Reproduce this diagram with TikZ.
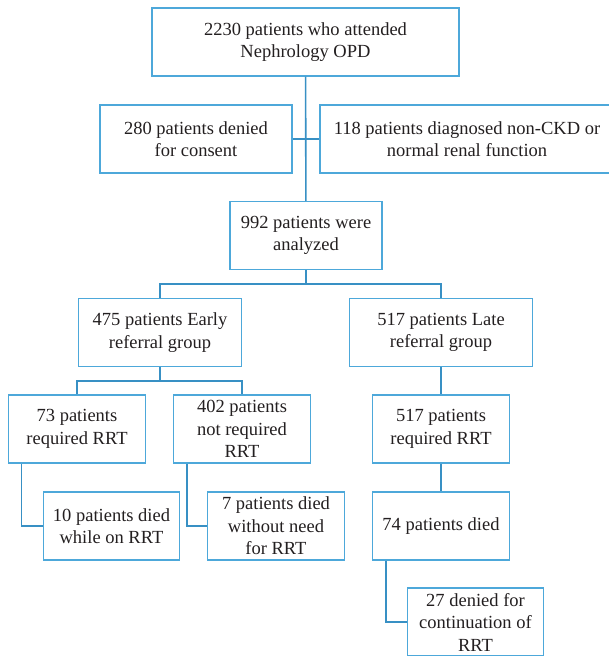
\documentclass[tikz,border=0pt]{standalone}
\usepackage{fontspec}
\newfontfamily\boxfont{Liberation Serif}
\usepackage{tikz}
\usetikzlibrary{positioning}
\definecolor{boxblue}{HTML}{4DA8DA}
\definecolor{lineblue}{HTML}{3890C4}
\definecolor{inkgray}{HTML}{231F20}

\begin{document}
\begin{tikzpicture}[
  x=1pt, y=-1pt,
  every node/.style={rectangle, draw=boxblue, line width=1.3pt, align=center,
    inner sep=0pt, minimum height=68pt, minimum width=136.5pt, text=inkgray,
    font=\boxfont\fontsize{18.5}{22.5}\selectfont},
  link/.style={draw=lineblue, line width=1.6pt}
]
  \useasboundingbox (0,0) rectangle (609,656);
  \clip (0,0) rectangle (609,656);

  \node[minimum width=307pt] (opd) at (305.5,42) {2230 patients who attended\\Nephrology OPD};
  \node[minimum width=192pt] (denied) at (196,139) {280 patients denied\\for consent};
  \node[minimum width=294pt] (nonckd) at (467,139) {118 patients diagnosed non-CKD or\\normal renal function};
  \node[minimum width=152pt] (analyzed) at (306,235.5) {992 patients were\\analyzed};
  \node[minimum width=163.5pt] (early) at (160,332.5) {475 patients Early\\referral group};
  \node[minimum width=183.5pt] (late) at (441,332.5) {517 patients Late\\referral group};
  \node (earlyrrt) at (77,429) {73 patients\\required RRT};
  \node (norrt) at (242,429) {402 patients\\not required\\RRT};
  \node (laterrt) at (441,429) {517 patients\\required RRT};
  \node (diedrrt) at (111.5,526) {10 patients died\\while on RRT};
  \node (diednorrt) at (276,526) {7 patients died\\without need\\for RRT};
  \node (latedied) at (441,526) {74 patients died};
  \node (stopped) at (475.5,622) {27 denied for\\continuation of\\RRT};

  \coordinate (split1) at (306,284);
  \coordinate (split2) at (160,381);

  \draw[link] (opd) -- (analyzed);
  \draw[link] (denied.east) -- (nonckd.west);
  \draw[link] (analyzed) -- (split1);
  \draw[link] (early.north) |- (split1) -| (late.north);
  \draw[link] (early) -- (split2);
  \draw[link] (earlyrrt.north) |- (split2) -| (norrt.north);
  \draw[link] (late) -- (laterrt);
  \draw[link] (laterrt) -- (latedied);
  \draw[link] ([xshift=13.5pt]earlyrrt.south west) |- (diedrrt.west);
  \draw[link] ([xshift=14pt]norrt.south west) |- (diednorrt.west);
  \draw[link] ([xshift=14pt]latedied.south west) |- (stopped.west);
\end{tikzpicture}
\end{document}
